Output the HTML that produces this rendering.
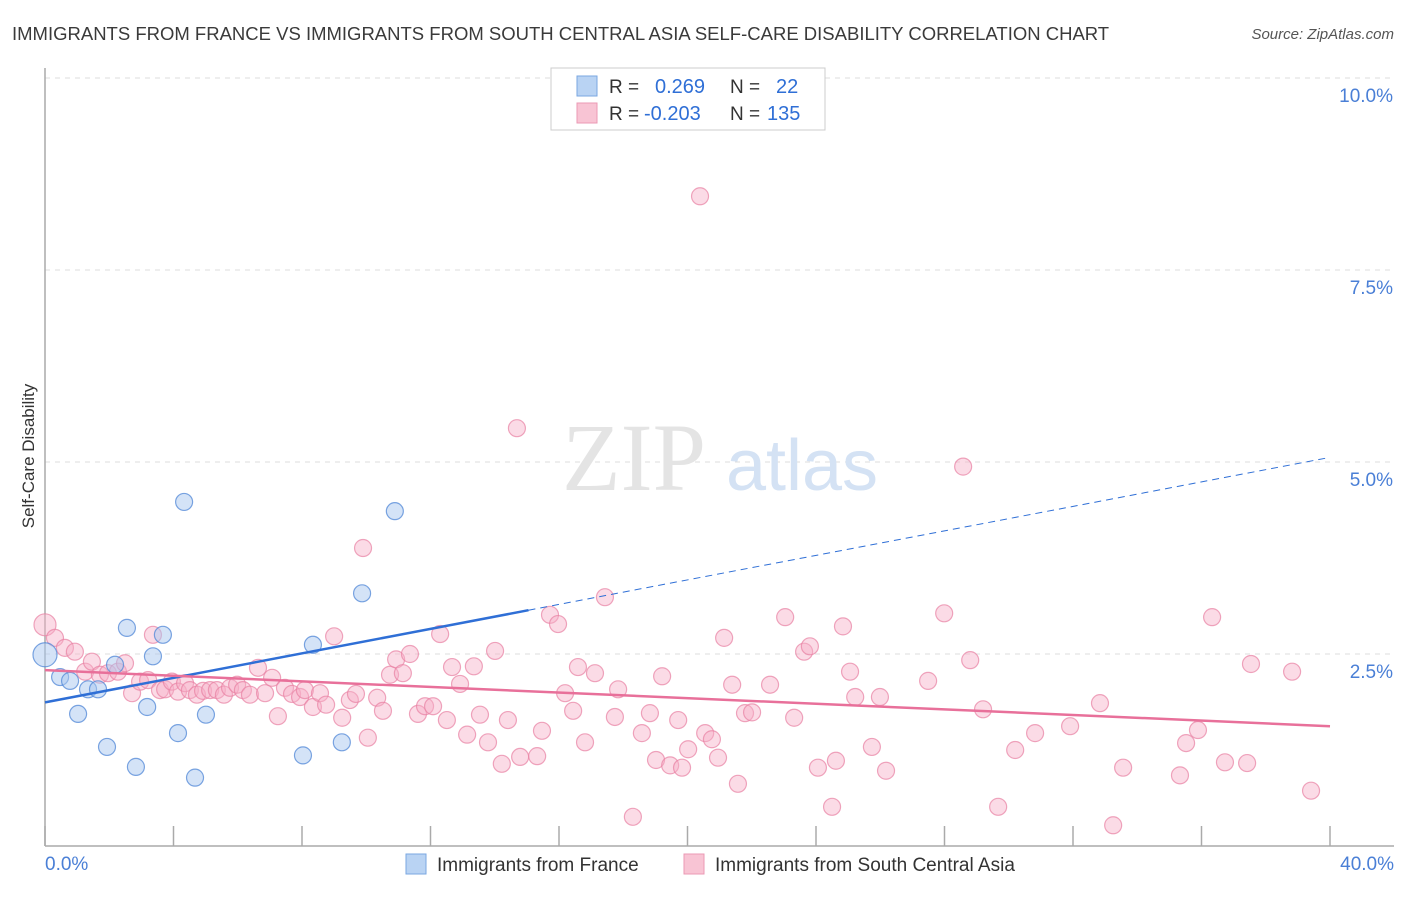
<!DOCTYPE html>
<html><head><meta charset="utf-8">
<style>
body{margin:0;background:#fff;font-family:"Liberation Sans",sans-serif;}
svg text{font-family:"Liberation Sans",sans-serif;}
</style></head>
<body>
<svg id="chart" width="1406" height="892">
<text x="12" y="40" font-size="18.5" fill="#3a3a3a">IMMIGRANTS FROM FRANCE VS IMMIGRANTS FROM SOUTH CENTRAL ASIA SELF-CARE DISABILITY CORRELATION CHART</text>
<text x="1394" y="39" font-size="15" fill="#555" text-anchor="end" font-style="italic">Source: ZipAtlas.com</text>
<g id="grid"></g>
<text x="634" y="490" font-size="96" fill="#e4e4e4" text-anchor="middle" style="font-family:'Liberation Serif',serif">ZIP</text>
<text x="802" y="490" font-size="72" fill="#d4e2f4" text-anchor="middle">atlas</text>
<g id="marks"></g>
<text x="34" y="456" font-size="17" fill="#333" text-anchor="middle" transform="rotate(-90 34 456)">Self-Care Disability</text>
<g>
<rect x="551" y="68" width="274" height="62" fill="#fff" stroke="#ccc"/>
<rect x="577" y="76" width="20" height="20" fill="#b9d3f3" stroke="#7aa7e2"/>
<rect x="577" y="103" width="20" height="20" fill="#f8c4d4" stroke="#eb9ab4"/>
<text x="609" y="93" font-size="19" fill="#333">R = </text><text x="655" y="93" font-size="20" fill="#2f6fd6">0.269</text>
<text x="730" y="93" font-size="19" fill="#333">N = </text><text x="776" y="93" font-size="20" fill="#2f6fd6">22</text>
<text x="609" y="120" font-size="19" fill="#333">R = </text><text x="644" y="120" font-size="20" fill="#2f6fd6">-0.203</text>
<text x="730" y="120" font-size="19" fill="#333">N = </text><text x="767" y="120" font-size="20" fill="#2f6fd6">135</text>
</g>
<g>
<rect x="406" y="854" width="20" height="20" fill="#b9d3f3" stroke="#7aa7e2"/>
<text x="437" y="871" font-size="19" fill="#333">Immigrants from France</text>
<rect x="684" y="854" width="20" height="20" fill="#f8c4d4" stroke="#eb9ab4"/>
<text x="715" y="871" font-size="19" fill="#333">Immigrants from South Central Asia</text>
</g>
</svg>
<script>
const yTicks=[2.5,5,7.5,10];
const yTickLabels=["2.5%","5.0%","7.5%","10.0%"];
const xTickLabels=["0.0%","40.0%"];
const franceX=[0,0.47,0.78,1.03,1.34,1.65,1.93,2.18,2.55,2.83,3.18,3.36,3.67,4.14,4.33,4.67,5.01,8.03,8.34,9.24,9.87,10.89];
const franceY=[2.49,2.20,2.15,1.72,2.04,2.04,1.29,2.36,2.84,1.03,1.81,2.47,2.75,1.47,4.48,0.89,1.71,1.18,2.62,1.35,3.29,4.36];
const scaX=[0,0.31,0.62,0.93,1.25,1.46,1.71,1.96,2.27,2.49,2.71,2.96,3.21,3.36,3.58,3.74,3.95,4.14,4.36,4.51,4.73,4.92,5.14,5.35,5.57,5.76,5.98,6.16,6.38,6.63,6.85,7.07,7.25,7.47,7.69,7.94,8.09,8.34,8.56,8.75,9.00,9.25,9.49,9.68,9.90,10.05,10.34,10.52,10.74,10.93,11.14,11.36,11.61,11.83,12.08,12.30,12.51,12.67,12.92,13.14,13.35,13.54,13.79,14.01,14.22,14.41,14.69,14.79,15.32,15.47,15.72,15.97,16.19,16.44,16.59,16.81,17.12,17.43,17.74,17.84,18.30,18.58,18.83,19.02,19.21,19.46,19.71,19.83,20.02,20.39,20.55,20.76,20.95,21.14,21.39,21.57,21.79,22.01,22.57,23.04,23.32,23.63,23.81,24.06,24.50,24.62,24.84,25.06,25.22,25.74,25.99,26.18,27.49,27.99,28.58,28.80,29.20,29.67,30.20,30.82,31.91,32.84,33.25,33.56,35.33,35.52,35.89,36.33,36.73,37.42,37.54,38.82,39.41];
const scaY=[2.88,2.71,2.58,2.53,2.27,2.40,2.23,2.25,2.27,2.38,1.99,2.14,2.16,2.75,2.03,2.04,2.14,2.01,2.12,2.03,1.97,2.02,2.03,2.03,1.97,2.06,2.10,2.03,1.97,2.32,1.99,2.19,1.69,2.06,1.98,1.94,2.03,1.81,1.99,1.84,2.73,1.67,1.90,1.98,3.88,1.41,1.93,1.76,2.23,2.43,2.25,2.50,1.72,1.82,1.82,2.76,1.64,2.33,2.11,1.45,2.34,1.71,1.35,2.54,1.07,1.64,5.44,1.16,1.17,1.50,3.01,2.89,1.99,1.76,2.33,1.35,2.25,3.24,1.68,2.04,0.38,1.47,1.73,1.12,2.21,1.05,1.64,1.02,1.26,8.46,1.47,1.39,1.15,2.71,2.10,0.81,1.73,1.74,2.10,2.98,1.67,2.53,2.60,1.02,0.51,1.11,2.86,2.27,1.94,1.29,1.94,0.98,2.15,3.03,4.94,2.42,1.78,0.51,1.25,1.47,1.56,1.86,0.27,1.02,0.92,1.34,1.51,2.98,1.09,1.08,2.37,2.27,0.72];
const franceTrend=[1.87,5.06];
const franceSolidEnd=15.05;
const scaTrend=[2.29,1.56];

const NS="http://www.w3.org/2000/svg";
const X=v=>45+v/40*1285;
const Y=v=>846-v/2.5*192;
function mk(tag,attrs,parent){const e=document.createElementNS(NS,tag);for(const k in attrs)e.setAttribute(k,attrs[k]);parent.appendChild(e);return e;}
const grid=document.getElementById('grid');
const marks=document.getElementById('marks');
yTicks.forEach((t,i)=>{
  const l=mk('line',{x1:45,x2:1394,y1:Y(t),y2:Y(t),stroke:'#ddd','stroke-dasharray':'5,5'},grid);
  
  
  const tx=mk('text',{x:1393,y:Y(t)+24,'font-size':19,fill:'#4a7fd6','text-anchor':'end'},grid);
  tx.textContent=yTickLabels[i];
  
  
});
const ax=mk('line',{x1:45,x2:45,y1:68,y2:846,stroke:'#aaa','stroke-width':1.5},grid);


const bx=mk('line',{x1:45,x2:1394,y1:846,y2:846,stroke:'#aaa','stroke-width':1.5},grid);


for(let i=0;i<=10;i++){
  const t=mk('line',{x1:X(i*4),x2:X(i*4),y1:826,y2:846,stroke:'#aaa','stroke-width':1.5},grid);
  
  
}
[[0,'start',45],[40,'end',1394]].forEach((d,i)=>{
  const tx=mk('text',{x:d[2],y:870,'font-size':19,fill:'#4a7fd6','text-anchor':d[1]},grid);
  tx.textContent=xTickLabels[i];
  
  
});
scaX.forEach((x,i)=>{
  const c=mk('circle',{cx:X(x),cy:Y(scaY[i]),r:i===0?11:8.5,fill:'rgba(246,176,199,0.45)',stroke:'rgba(232,128,162,0.7)','stroke-width':1.2},marks);
  
  
});
franceX.forEach((x,i)=>{
  const c=mk('circle',{cx:X(x),cy:Y(franceY[i]),r:i===0?12:8.5,fill:'rgba(170,200,240,0.5)',stroke:'rgba(80,135,215,0.75)','stroke-width':1.2},marks);
  
  
});
const fy=x=>franceTrend[0]+(franceTrend[1]-franceTrend[0])*x/40;
const l1=mk('line',{x1:X(0),y1:Y(fy(0)),x2:X(franceSolidEnd),y2:Y(fy(franceSolidEnd)),stroke:'#2f6fd6','stroke-width':2.5},marks);


const l2=mk('line',{x1:X(franceSolidEnd),y1:Y(fy(franceSolidEnd)),x2:X(40),y2:Y(fy(40)),stroke:'#2f6fd6','stroke-width':1,'stroke-dasharray':'7,5'},marks);


const l3=mk('line',{x1:X(0),y1:Y(scaTrend[0]),x2:X(40),y2:Y(scaTrend[1]),stroke:'#e8709a','stroke-width':2.5},marks);


</script>
</body></html>
